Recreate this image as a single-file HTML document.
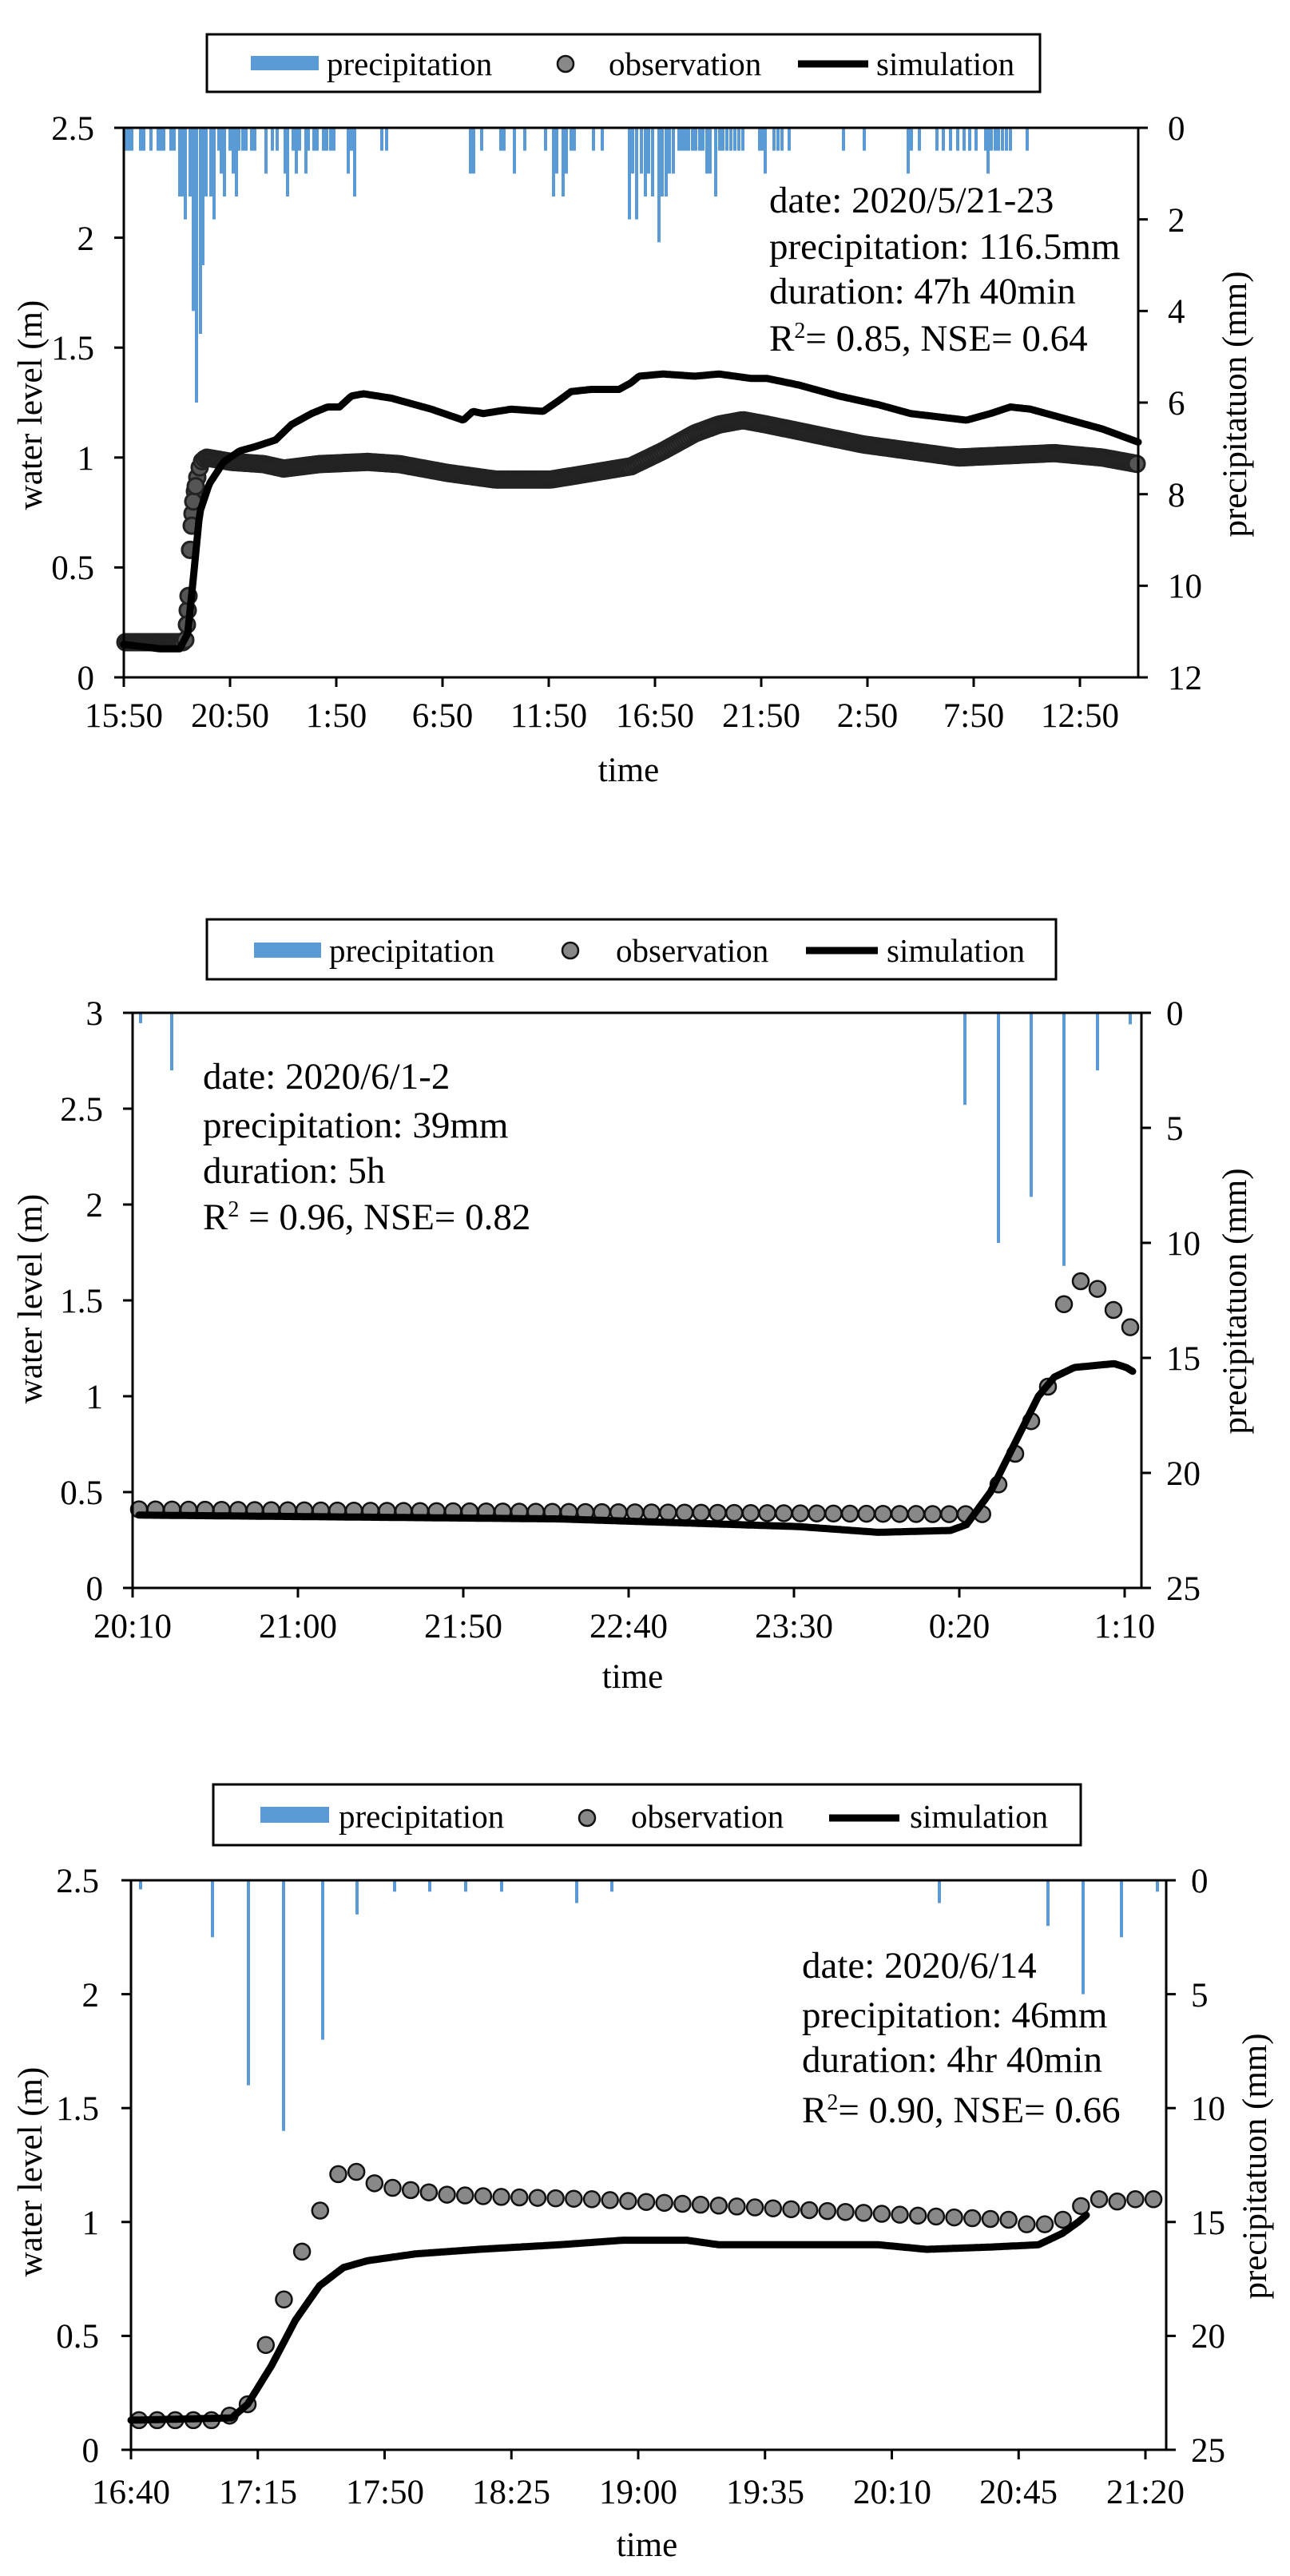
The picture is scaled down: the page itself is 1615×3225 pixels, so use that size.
<!DOCTYPE html>
<html><head><meta charset="utf-8">
<style>
html,body{margin:0;padding:0;background:#fff;}
svg{display:block;}
text{font-family:"Liberation Serif",serif;fill:#000;}
.t{font-size:43px;}
.l{font-size:41px;}
.a{font-size:47px;}
</style></head>
<body>
<svg id="s" width="1615" height="3225" viewBox="0 0 1615 3225" xmlns="http://www.w3.org/2000/svg">
<rect width="1615" height="3225" fill="#fff"/>
<g id="g1"></g><g id="g2"></g><g id="g3"></g>

<!-- ===== Chart 1 ===== -->
<rect x="259" y="43" width="1043" height="72" fill="none" stroke="#000" stroke-width="3"/>
<rect x="314" y="70" width="85" height="18" fill="#5b9bd5"/>
<text class="l" x="409" y="94">precipitation</text>
<circle cx="708" cy="80" r="10" fill="#888" stroke="#111" stroke-width="2.5"/>
<text class="l" x="762" y="94">observation</text>
<line x1="999" y1="80" x2="1087" y2="80" stroke="#000" stroke-width="9"/>
<text class="l" x="1097" y="94">simulation</text>
<g class="t" text-anchor="end">
<text x="118" y="175">2.5</text><text x="118" y="313">2</text><text x="118" y="450">1.5</text>
<text x="118" y="588">1</text><text x="118" y="725">0.5</text><text x="118" y="863">0</text>
</g>
<g class="t">
<text x="1462" y="175">0</text><text x="1462" y="290">2</text><text x="1462" y="404">4</text>
<text x="1462" y="519">6</text><text x="1462" y="634">8</text><text x="1462" y="748">10</text><text x="1462" y="863">12</text>
</g>
<g class="t" text-anchor="middle">
<text x="155" y="910">15:50</text><text x="288" y="910">20:50</text><text x="421" y="910">1:50</text>
<text x="554" y="910">6:50</text><text x="687" y="910">11:50</text><text x="820" y="910">16:50</text>
<text x="953" y="910">21:50</text><text x="1086" y="910">2:50</text><text x="1219" y="910">7:50</text><text x="1352" y="910">12:50</text>
<text x="787" y="978">time</text>
</g>
<text class="t" text-anchor="middle" transform="translate(52,507) rotate(-90)">water level (m)</text>
<text class="t" text-anchor="middle" transform="translate(1560,506) rotate(-90)">precipitatuon (mm)</text>
<g class="a">
<text x="963" y="266">date: 2020/5/21-23</text>
<text x="963" y="324">precipitation:  116.5mm</text>
<text x="963" y="380">duration:  47h 40min</text>
<text x="963" y="439">R<tspan font-size="28" dy="-16">2</tspan><tspan dy="16">= 0.85, NSE= 0.64</tspan></text>
</g>

<!-- ===== Chart 2 ===== -->
<rect x="259" y="1151" width="1063" height="75" fill="none" stroke="#000" stroke-width="3"/>
<rect x="318" y="1180" width="84" height="19" fill="#5b9bd5"/>
<text class="l" x="412" y="1204">precipitation</text>
<circle cx="714" cy="1190" r="10" fill="#888" stroke="#111" stroke-width="2.5"/>
<text class="l" x="771" y="1204">observation</text>
<line x1="1009" y1="1190" x2="1099" y2="1190" stroke="#000" stroke-width="9"/>
<text class="l" x="1110" y="1204">simulation</text>
<g class="t" text-anchor="end">
<text x="129" y="1283">3</text><text x="129" y="1403">2.5</text><text x="129" y="1523">2</text>
<text x="129" y="1643">1.5</text><text x="129" y="1763">1</text><text x="129" y="1883">0.5</text><text x="129" y="2003">0</text>
</g>
<g class="t">
<text x="1460" y="1283">0</text><text x="1460" y="1427">5</text><text x="1460" y="1571">10</text>
<text x="1460" y="1715">15</text><text x="1460" y="1859">20</text><text x="1460" y="2003">25</text>
</g>
<g class="t" text-anchor="middle">
<text x="166" y="2050">20:10</text><text x="373" y="2050">21:00</text><text x="580" y="2050">21:50</text>
<text x="787" y="2050">22:40</text><text x="994" y="2050">23:30</text><text x="1201" y="2050">0:20</text><text x="1408" y="2050">1:10</text>
<text x="792" y="2113">time</text>
</g>
<text class="t" text-anchor="middle" transform="translate(52,1626) rotate(-90)">water level (m)</text>
<text class="t" text-anchor="middle" transform="translate(1560,1629) rotate(-90)">precipitatuon (mm)</text>
<g class="a">
<text x="254" y="1363">date: 2020/6/1-2</text>
<text x="254" y="1424">precipitation: 39mm</text>
<text x="254" y="1481">duration: 5h</text>
<text x="254" y="1539">R<tspan font-size="28" dy="-16">2</tspan><tspan dy="16"> = 0.96, NSE= 0.82</tspan></text>
</g>

<!-- ===== Chart 3 ===== -->
<rect x="267" y="2234" width="1086" height="76" fill="none" stroke="#000" stroke-width="3"/>
<rect x="326" y="2262" width="86" height="20" fill="#5b9bd5"/>
<text class="l" x="424" y="2288">precipitation</text>
<circle cx="735" cy="2276" r="10" fill="#888" stroke="#111" stroke-width="2.5"/>
<text class="l" x="790" y="2288">observation</text>
<line x1="1038" y1="2276" x2="1126" y2="2276" stroke="#000" stroke-width="9"/>
<text class="l" x="1139" y="2288">simulation</text>
<g class="t" text-anchor="end">
<text x="124" y="2369">2.5</text><text x="124" y="2512">2</text><text x="124" y="2654">1.5</text>
<text x="124" y="2797">1</text><text x="124" y="2939">0.5</text><text x="124" y="3082">0</text>
</g>
<g class="t">
<text x="1491" y="2369">0</text><text x="1491" y="2512">5</text><text x="1491" y="2654">10</text>
<text x="1491" y="2797">15</text><text x="1491" y="2939">20</text><text x="1491" y="3082">25</text>
</g>
<g class="t" text-anchor="middle">
<text x="164" y="3134">16:40</text><text x="323" y="3134">17:15</text><text x="482" y="3134">17:50</text>
<text x="640" y="3134">18:25</text><text x="799" y="3134">19:00</text><text x="958" y="3134">19:35</text>
<text x="1117" y="3134">20:10</text><text x="1275" y="3134">20:45</text><text x="1434" y="3134">21:20</text>
<text x="810" y="3200">time</text>
</g>
<text class="t" text-anchor="middle" transform="translate(52,2719) rotate(-90)">water level (m)</text>
<text class="t" text-anchor="middle" transform="translate(1585,2712) rotate(-90)">precipitatuon (mm)</text>
<g class="a">
<text x="1004" y="2476">date: 2020/6/14</text>
<text x="1004" y="2538">precipitation:  46mm</text>
<text x="1004" y="2594">duration:  4hr 40min</text>
<text x="1004" y="2657">R<tspan font-size="28" dy="-16">2</tspan><tspan dy="16">= 0.90, NSE= 0.66</tspan></text>
</g>
</svg>
<script>
var NS="http://www.w3.org/2000/svg";
function el(g,n,a){var e=document.createElementNS(NS,n);for(var k in a)e.setAttribute(k,a[k]);g.appendChild(e);return e;}
function interp(pts,x){if(x<=pts[0][0])return pts[0][1];for(var i=1;i<pts.length;i++){if(x<=pts[i][0]){var a=pts[i-1],b=pts[i];return a[1]+(b[1]-a[1])*(x-a[0])/(b[0]-a[0]);}}return pts[pts.length-1][1];}
function chart(c){
 var g=document.getElementById(c.id);
 c.bars.forEach(function(b){el(g,"rect",{x:b[0]-c.bw/2,y:c.T,width:c.bw,height:b[1]*c.pmm,fill:"#5b9bd5"});});
 var d="";for(var x=c.simX0;x<=c.simX1;x+=2){var y=c.B-interp(c.sim,x)*c.wu;d+=(d?"L":"M")+x.toFixed(1)+" "+y.toFixed(1);}
 var og=el(g,"g",{});
 c.obs.forEach(function(p){el(og,"circle",{cx:p[0],cy:c.B-p[1]*c.wu,r:c.r,fill:c.fill||"#888",stroke:c.stroke||"#111","stroke-width":c.sw||2.5});});
 el(g,"path",{d:d,fill:"none",stroke:"#000","stroke-width":9,"stroke-linejoin":"round","stroke-linecap":"round"});
 var ax={stroke:"#000","stroke-width":3,fill:"none"};
 el(g,"line",Object.assign({x1:c.L,y1:c.T,x2:c.R,y2:c.T},ax));
 el(g,"line",Object.assign({x1:c.L,y1:c.B,x2:c.R,y2:c.B},ax));
 el(g,"line",Object.assign({x1:c.L,y1:c.T,x2:c.L,y2:c.B},ax));
 el(g,"line",Object.assign({x1:c.R,y1:c.T,x2:c.R,y2:c.B},ax));
 c.ly.forEach(function(y){el(g,"line",Object.assign({x1:c.L-12,y1:y,x2:c.L,y2:y},ax));});
 c.ry.forEach(function(y){el(g,"line",Object.assign({x1:c.R,y1:y,x2:c.R+12,y2:y},ax));});
 c.xt.forEach(function(x){el(g,"line",Object.assign({x1:x,y1:c.B,x2:x,y2:c.B+12},ax));});
}
function range(a,b,n){var r=[];for(var i=0;i<n;i++)r.push(a+i*b);return r;}
var b1=[[157,.5],[161,.5],[165,.5],[176,.5],[180,.5],[189,.5],[198,.5],[201,.5],[205,.5],[214,.5],[218,.5],
[225,1.5],[229,1.5],[232,2],[238,1.5],[242,4],[246,6],[251,4.5],[254,3],[258,1.5],[264,1.5],[268,2],
[274,.5],[277,1],[281,1.5],[288,.5],[292,1],[296,1.5],[299,.5],[304,.5],[308,.5],[315,.5],[319,.5],[333,1],[341,.5],[347,.5],
[357,1],[360,1.5],[367,.5],[371,1],[375,.5],[383,1],[386,.5],[393,.5],[397,.5],[405,.5],[409,.5],[414,.5],[418,.5],[436,1],[440,.5],[444,1.5],[478,.5],[484,.5],
[589,1],[593,1],[603,.5],[627,.5],[631,.5],[644,1],[657,.5],[683,.5],[693,1.5],[697,1],[705,1.5],[709,1],[715,.5],[719,.5],[743,.5],[754,.5],
[788,2],[792,1],[797,2],[803,1],[808,1.5],[812,1],[817,1.5],[825,2.5],[829,1.5],[834,1.5],[838,1],[843,1],[850,.5],[854,.5],[858,.5],[862,.5],[867,.5],[871,.5],[876,.5],[880,.5],
[885,1],[889,1],[896,1.5],[901,.5],[905,.5],[910,.5],[915,.5],[920,.5],[925,.5],[930,.5],[951,.5],[955,.5],[958,1],[969,.5],[974,.5],[979,.5],[988,.5],
[1056,.5],[1082,.5],[1137,1],[1141,.5],[1151,.5],[1173,.5],[1181,.5],[1190,.5],[1199,.5],[1207,.5],[1214,.5],[1222,.5],[1234,.5],[1237,1],[1241,.5],[1246,.5],[1250,.5],[1255,.5],[1260,.5],[1265,.5],[1286,.5]];
var o1pts=[[155,.16],[229,.16],[232,.17],[234,.24],[236,.37],[238,.58],[240,.69],[242,.8],[245,.87],[248,.93],[252,.98],[258,1.0],[290,.98],[330,.97],[355,.95],[400,.97],[460,.98],[500,.97],[560,.93],[620,.9],[690,.9],[740,.93],[790,.96],[830,1.03],[870,1.11],[900,1.15],[930,1.17],[960,1.15],[1000,1.12],[1080,1.06],[1140,1.03],[1200,1.0],[1260,1.01],[1320,1.02],[1380,1.0],[1425,.97]];
var o1=[];for(var x=157;x<=1425;x+=3)o1.push([x,interp(o1pts,x)]);
[[234,.24],[236,.37],[238,.58],[240,.69],[242,.8],[245,.87]].forEach(function(p){o1.push(p);});
chart({id:"g1",L:155,R:1425,T:160,B:848,wu:275.2,pmm:57.33,bw:4,r:10,fill:"#555",stroke:"#222",sw:3,bars:b1,obs:o1,simX0:155,simX1:1425,
sim:[[155,.15],[200,.13],[225,.13],[235,.2],[242,.45],[250,.75],[262,.88],[280,.98],[300,1.03],[320,1.05],[345,1.08],[365,1.15],[390,1.2],[410,1.23],[425,1.23],[440,1.28],[455,1.29],[490,1.27],[540,1.22],[580,1.17],[592,1.21],[605,1.2],[640,1.22],[680,1.21],[700,1.26],[715,1.3],[740,1.31],[775,1.31],[790,1.34],[800,1.37],[830,1.38],[870,1.37],[900,1.38],[940,1.36],[960,1.36],[1000,1.33],[1050,1.28],[1100,1.24],[1140,1.2],[1210,1.17],[1240,1.2],[1265,1.23],[1290,1.22],[1330,1.18],[1380,1.13],[1425,1.07]],
ly:[160,297.6,435.2,572.8,710.4,848],ry:range(160,114.67,7),xt:range(155,133,10)});
var o2=[];for(var k=0;k<=59;k++){var x=174+20.7*k;var v=0.41-0.025*Math.min(1,(x-174)/1000);o2.push([x,v]);}
o2=o2.filter(function(p){return p[0]<1235;});
[[1250,.54],[1271,.7],[1291,.87],[1312,1.05],[1332,1.48],[1353,1.6],[1374,1.56],[1394,1.45],[1415,1.36]].forEach(function(p){o2.push(p);});
chart({id:"g2",L:166,R:1429,T:1268,B:1988,wu:240,pmm:28.8,bw:4,r:10,
bars:[[176,.45],[215,2.5],[1208,4],[1250,10],[1291,8],[1332,11],[1374,2.5],[1415,.5]],obs:o2,simX0:174,simX1:1418,
sim:[[174,.38],[700,.36],[1000,.32],[1100,.29],[1190,.3],[1210,.33],[1240,.5],[1270,.75],[1300,1.0],[1320,1.1],[1345,1.15],[1395,1.17],[1410,1.15],[1418,1.13]],
ly:range(1268,120,7),ry:range(1268,144,6),xt:range(166,207,7)});
var o3pts=[[0,.13],[4,.13],[5,.15],[6,.2],[7,.46],[8,.66],[9,.87],[10,1.05],[11,1.21],[12,1.22],[13,1.17],[14,1.15],[15,1.14],[17,1.12],[20,1.11],[25,1.1],[30,1.08],[35,1.06],[40,1.04],[45,1.02],[48,1.01],[49,.99],[50,.99],[51,1.01],[52,1.07],[53,1.1],[54,1.09],[55,1.1],[56,1.1]];
var o3=[];for(var k=0;k<=56;k++)o3.push([174+22.68*k,interp(o3pts,k)]);
chart({id:"g3",L:164,R:1460,T:2354,B:3067,wu:285.2,pmm:28.52,bw:4,r:10,
bars:[[176,.4],[266,2.5],[311,9],[355,11],[404,7],[447,1.5],[494,.5],[538,.5],[583,.5],[628,.5],[722,1],[766,.5],[1176,1],[1312,2],[1356,5],[1404,2.5],[1449,.5]],
obs:o3,simX0:164,simX1:1360,
sim:[[164,.13],[290,.14],[310,.2],[340,.37],[370,.57],[400,.72],[430,.8],[460,.83],[520,.86],[600,.88],[700,.9],[780,.92],[860,.92],[900,.9],[1000,.9],[1100,.9],[1160,.88],[1240,.89],[1300,.9],[1330,.95],[1350,1.0],[1360,1.03]],
ly:range(2354,142.6,6),ry:range(2354,142.6,6),xt:range(164,158.75,9)});
</script>
</body></html>
